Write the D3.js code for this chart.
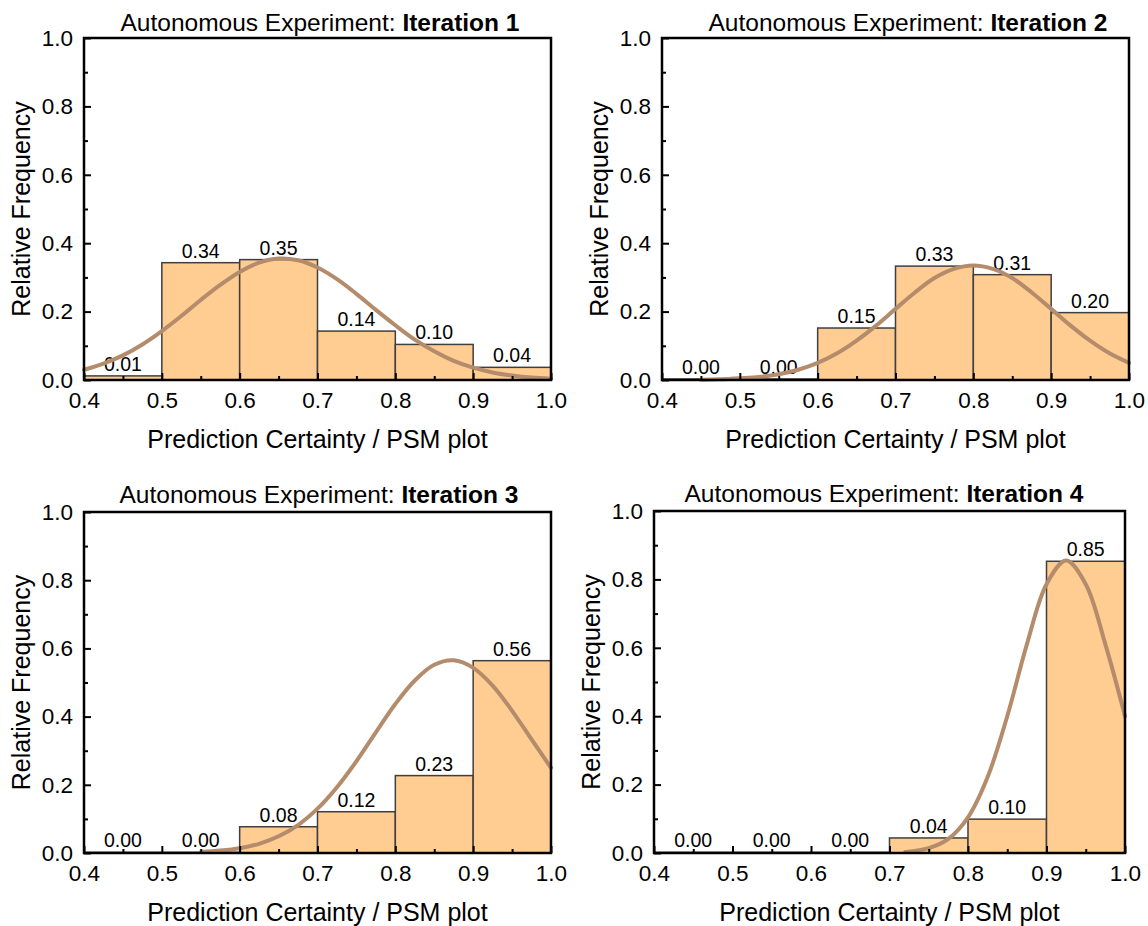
<!DOCTYPE html>
<html lang="en">
  <head>
    <meta charset="utf-8">
    <title>Autonomous Experiment iterations</title>
    <script src="https://d3js.org/d3.v7.min.js"></script>
    <style>
      body { margin: 0; background: #fff; }
      text { font-family: "Liberation Sans", Arial, sans-serif; fill: #000; }
    </style>
  </head>
  <body>
    <svg width="1148" height="926"></svg>
    <script type="text/javascript">

        // bin edges of the histograms (same for all iterations)
        var binEdges = [0.4, 0.5, 0.6, 0.7, 0.8, 0.9, 1.0];

        // relative frequency per bin
        var freq1 = [0.012, 0.343, 0.352, 0.143, 0.104, 0.037];
        var freq2 = [0.003, 0.003, 0.152, 0.333, 0.308, 0.197];
        var freq3 = [0.002, 0.002, 0.077, 0.121, 0.227, 0.564];
        var freq4 = [0.002, 0.002, 0.002, 0.044, 0.099, 0.853];

        // fitted curves as [x, y]
        var curve1 = [[0.400,0.030],[0.425,0.048],[0.450,0.072],[0.475,0.104],[0.500,0.143],[0.525,0.187],
                      [0.550,0.234],[0.575,0.278],[0.600,0.316],[0.625,0.343],[0.650,0.355],[0.675,0.350],
                      [0.700,0.329],[0.725,0.295],[0.750,0.252],[0.775,0.205],[0.800,0.160],[0.825,0.118],
                      [0.850,0.084],[0.875,0.056],[0.900,0.036],[0.925,0.022],[0.950,0.013],[0.975,0.007],[1.000,0.004]];
        var curve2 = [[0.450,0.001],[0.475,0.002],[0.500,0.005],[0.525,0.009],[0.550,0.017],[0.575,0.030],
                      [0.600,0.050],[0.625,0.078],[0.650,0.115],[0.675,0.159],[0.700,0.208],[0.725,0.256],
                      [0.750,0.298],[0.775,0.325],[0.800,0.335],[0.825,0.325],[0.850,0.298],[0.875,0.256],
                      [0.900,0.208],[0.925,0.159],[0.950,0.115],[0.975,0.078],[1.000,0.050]];
        var curve3 = [[0.550,0.003],[0.575,0.007],[0.600,0.014],[0.625,0.027],[0.650,0.049],[0.675,0.082],
                      [0.700,0.130],[0.725,0.193],[0.750,0.269],[0.775,0.354],[0.800,0.437],[0.825,0.506],
                      [0.850,0.552],[0.875,0.565],[0.900,0.543],[0.925,0.491],[0.950,0.417],[0.975,0.333],[1.000,0.250]];
        var curve4 = [[0.720,0.003],[0.750,0.014],[0.775,0.041],[0.800,0.104],[0.825,0.222],[0.850,0.400],
                      [0.875,0.610],[0.900,0.786],[0.925,0.855],[0.950,0.786],[0.975,0.610],[1.000,0.400]];

        // tick values
        var xTicks = [0.4, 0.5, 0.6, 0.7, 0.8, 0.9, 1.0];
        var xMinor = [0.45, 0.55, 0.65, 0.75, 0.85, 0.95];
        var yTicks = [0.0, 0.2, 0.4, 0.6, 0.8, 1.0];
        var yMinor = [0.1, 0.3, 0.5, 0.7, 0.9];

        var titles = ["Iteration 1", "Iteration 2", "Iteration 3", "Iteration 4"];
        var titlePrefix = "Autonomous Experiment: ";
        var xLabel = "Prediction Certainty / PSM plot";
        var yLabel = "Relative Frequency";

        var freqs = [freq1, freq2, freq3, freq4];
        var curves = [curve1, curve2, curve3, curve4];

        // panel placement in the page
        var layout = [
          { left: 84,  right: 551,  top: 38,  bottom: 380, titleX: 320, titleY: 31 },
          { left: 662, right: 1129, top: 38,  bottom: 380, titleX: 908, titleY: 31 },
          { left: 84,  right: 551,  top: 512, bottom: 853, titleX: 319, titleY: 503 },
          { left: 654, right: 1125, top: 511, bottom: 853, titleX: 884, titleY: 502 }
        ];

        var fmt = d3.format(".2f");
        var svg = d3.select("svg");

        function drawPanel(i) {
          var L = layout[i];
          var w = L.right - L.left, h = L.bottom - L.top;
          var g = svg.append("g").attr("transform", "translate(" + L.left + "," + L.top + ")");

          var x = d3.scaleLinear().domain([0.4, 1.0]).range([0, w]);
          var y = d3.scaleLinear().domain([0, 1.0]).range([h, 0]);

          var bins = freqs[i].map(function(d, j) { return { x0: binEdges[j], x1: binEdges[j + 1], v: d }; });

          // bars
          g.selectAll("rect.bar").data(bins).enter().append("rect")
            .attr("class", "bar")
            .attr("x", function(d) { return x(d.x0); })
            .attr("width", function(d) { return x(d.x1) - x(d.x0); })
            .attr("y", function(d) { return y(d.v); })
            .attr("height", function(d) { return y(0) - y(d.v); })
            .style("fill", "#FFCC91")
            .style("stroke", "#3f3f3f")
            .style("stroke-width", 1.5);

          // value labels
          g.selectAll("text.val").data(bins).enter().append("text")
            .attr("class", "val")
            .attr("x", function(d) { return (x(d.x0) + x(d.x1)) / 2; })
            .attr("y", function(d) { return y(d.v) - 5; })
            .attr("text-anchor", "middle")
            .style("font-size", "19.5px")
            .text(function(d) { return fmt(d.v); });

          // fitted curve
          var line = d3.line()
            .x(function(d) { return x(d[0]); })
            .y(function(d) { return y(d[1]); })
            .curve(d3.curveCatmullRom);
          g.append("path").datum(curves[i])
            .attr("d", line)
            .style("fill", "none")
            .style("stroke", "#B48C6C")
            .style("stroke-width", 4)
            .style("stroke-linecap", "round");

          // axes, ticks point inward
          var xAxis = g.append("g").attr("transform", "translate(0," + h + ")")
            .call(d3.axisBottom(x).tickValues(xTicks).tickFormat(d3.format(".1f"))
              .tickSizeInner(-7).tickSizeOuter(0).tickPadding(12));
          g.append("g").attr("transform", "translate(0," + h + ")")
            .call(d3.axisBottom(x).tickValues(xMinor).tickFormat("").tickSizeInner(-4).tickSizeOuter(0));
          var yAxis = g.append("g")
            .call(d3.axisLeft(y).tickValues(yTicks).tickFormat(d3.format(".1f"))
              .tickSizeInner(-7).tickSizeOuter(0).tickPadding(11));
          g.append("g")
            .call(d3.axisLeft(y).tickValues(yMinor).tickFormat("").tickSizeInner(-4).tickSizeOuter(0));

          g.selectAll(".domain").remove();
          g.selectAll(".tick line").style("stroke", "#000").style("stroke-width", 2);
          xAxis.selectAll("text").style("font-size", "22.5px").style("font-family", null);
          yAxis.selectAll("text").style("font-size", "22.5px").style("font-family", null);
          g.selectAll(".tick text").attr("fill", "#000");

          // frame
          g.append("rect")
            .attr("x", 0).attr("y", 0).attr("width", w).attr("height", h)
            .style("fill", "none").style("stroke", "#000").style("stroke-width", 2.5);

          // title
          var t = svg.append("text")
            .attr("x", L.titleX).attr("y", L.titleY)
            .attr("text-anchor", "middle")
            .style("font-size", "24.5px");
          t.append("tspan").text(titlePrefix);
          t.append("tspan").style("font-weight", "bold").text(titles[i]);

          // axis labels
          svg.append("text")
            .attr("x", L.left + w / 2).attr("y", L.bottom + 68)
            .attr("text-anchor", "middle")
            .style("font-size", "25px")
            .text(xLabel);
          svg.append("text")
            .attr("transform", "translate(" + (L.left - 54) + "," + (L.top + h / 2) + ") rotate(-90)")
            .attr("text-anchor", "middle")
            .style("font-size", "25px")
            .text(yLabel);
        }

        for (var i = 0; i < 4; i++) drawPanel(i);

    </script>
  </body>
</html>
